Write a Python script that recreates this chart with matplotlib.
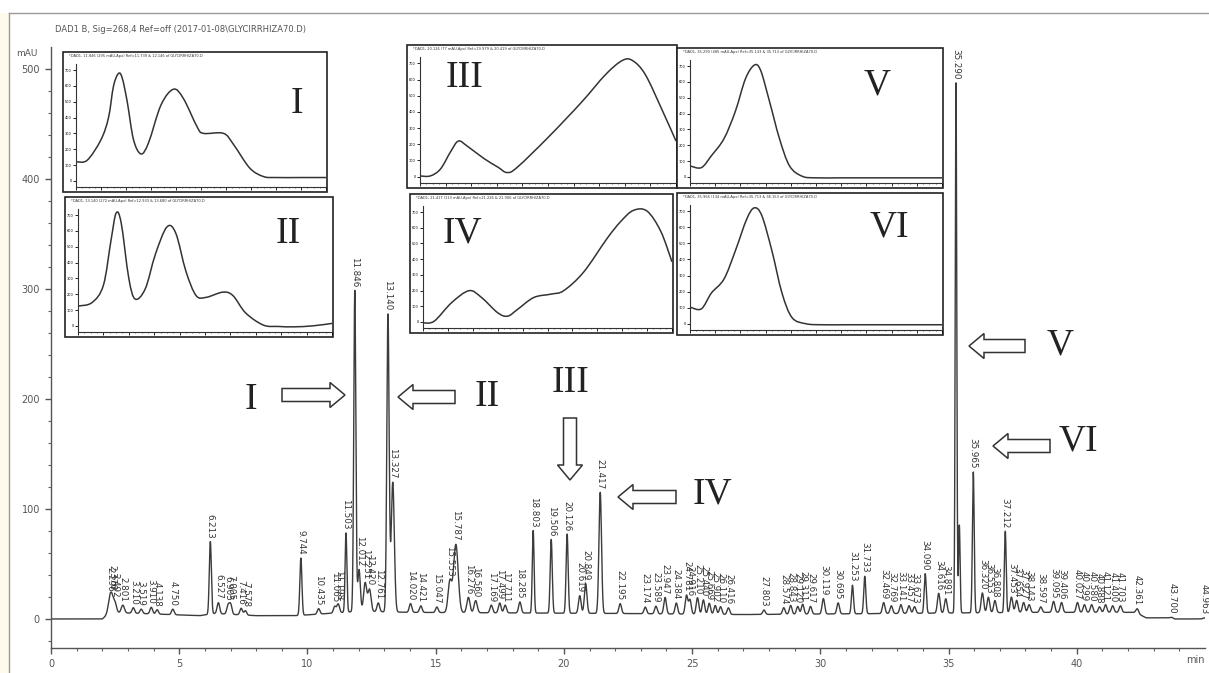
import numpy as np
import matplotlib
matplotlib.use("Agg")
import matplotlib.pyplot as plt
from matplotlib.patches import Rectangle, FancyArrow, PathPatch
from matplotlib.path import Path

# ---------------- data ----------------
peak_rt = [2.296, 2.376, 2.492, 2.801, 3.210, 3.519, 3.910, 4.138, 4.750,
           6.213, 6.527, 6.905, 7.005, 7.416, 7.578,
           9.744, 10.435, 11.065, 11.198, 11.503, 11.846, 12.012, 12.251, 12.420, 12.761,
           13.140, 13.327, 14.020, 14.421, 15.047, 15.553, 15.787, 16.276, 16.560,
           17.169, 17.499, 17.711, 18.285,
           18.803, 19.506, 20.126, 20.619, 20.849, 21.417, 22.195,
           23.174, 23.589, 23.947, 24.384, 24.781, 24.916, 25.210, 25.440, 25.669,
           25.902, 26.110, 26.416,
           27.803, 28.574, 28.843, 29.120, 29.311, 29.617, 30.119, 30.695, 31.253,
           31.733, 32.469, 32.769,
           33.141, 33.457, 33.673, 34.090, 34.616, 34.891, 35.290, 35.965, 36.320,
           36.553, 36.808, 37.212,
           37.453, 37.654, 37.927, 38.143, 38.597, 39.095, 39.406, 40.027, 40.299,
           40.580, 40.888, 41.121,
           41.400, 41.703, 42.361, 43.700, 44.963]
peak_height = [12, 10, 9, 7, 5, 4, 6, 4, 5,
               66, 10, 8, 9, 6, 4,
               52, 5, 6, 8, 72, 292, 38, 26, 20, 8,
               270, 118, 8, 6, 5, 28, 62, 14, 11,
               7, 9, 7, 10,
               75, 67, 72, 16, 27, 110, 9,
               6, 7, 15, 10, 17, 13, 15, 13, 10,
               8, 7, 6,
               4, 6, 8, 7, 9, 7, 14, 10, 26,
               34, 10, 7,
               8, 7, 6, 36, 18, 13, 482, 128, 18,
               14, 11, 74,
               14, 11, 9, 7, 5, 10, 9, 9, 7,
               7, 5, 7,
               6, 6, 4, 1, 1]
peak_width = [0.07, 0.06, 0.06, 0.06, 0.05, 0.05, 0.05, 0.05, 0.05,
              0.04, 0.05, 0.05, 0.05, 0.05, 0.05,
              0.04, 0.05, 0.05, 0.05, 0.035, 0.04, 0.05, 0.06, 0.06, 0.05,
              0.045, 0.06, 0.05, 0.05, 0.05, 0.07, 0.09, 0.06, 0.06,
              0.05, 0.05, 0.05, 0.05,
              0.035, 0.04, 0.04, 0.05, 0.05, 0.05, 0.05,
              0.05, 0.05, 0.05, 0.05, 0.05, 0.05, 0.05, 0.05, 0.05,
              0.05, 0.05, 0.05,
              0.05, 0.05, 0.05, 0.05, 0.05, 0.05, 0.05, 0.05, 0.04,
              0.04, 0.05, 0.05,
              0.05, 0.05, 0.05, 0.04, 0.05, 0.05, 0.03, 0.035, 0.05,
              0.05, 0.05, 0.035,
              0.05, 0.05, 0.05, 0.05, 0.05, 0.05, 0.05, 0.05, 0.05,
              0.05, 0.05, 0.05,
              0.05, 0.05, 0.05, 0.05, 0.05]
shoulder_rt = [35.42]
shoulder_height = [80]
shoulder_width = [0.03]

baseline_t = [0, 2.0, 2.3, 5.8, 6.4, 8.0, 9.5, 10.2, 12.0, 14.0, 22.0, 27.0, 33.0, 38.0, 42.3, 42.7, 43.6, 43.8, 45.0]
baseline_v = [0, 0, 6, 3, 5, 3, 3, 4, 7, 6, 5, 4, 5, 6, 6, 1, 1, 0, 0]

x_ticks = [0, 5, 10, 15, 20, 25, 30, 35, 40]
y_ticks = [0, 100, 200, 300, 400, 500]

# UV spectra of the insets (wavelength nm, relative absorbance)
spec_wl = {
    "I":   [200, 209, 220, 226, 230, 234, 237, 241, 246, 252, 258, 268, 278, 286, 297, 302, 318, 326, 339, 350, 360, 380, 400],
    "II":  [200, 211, 220, 226, 230, 234, 240, 245, 253, 261, 270, 277, 285, 293, 301, 314, 322, 332, 346, 358, 370, 385, 400],
    "III": [200, 208, 216, 224, 230, 237, 250, 261, 268, 276, 300, 326, 345, 358, 366, 376, 389, 400],
    "IV":  [200, 209, 223, 237, 247, 260, 268, 276, 289, 303, 313, 329, 348, 359, 369, 380, 391, 400],
    "V":   [200, 209, 217, 227, 236, 244, 251, 256, 263, 271, 279, 289, 300, 320, 350, 400],
    "VI":  [200, 209, 217, 227, 236, 245, 251, 257, 265, 273, 281, 292, 305, 325, 350, 400],
}
spec_abs = {
    "I":   [0.205, 0.218, 0.385, 0.564, 0.82, 0.923, 0.885, 0.692, 0.385, 0.269, 0.359, 0.667, 0.795, 0.718, 0.487, 0.436, 0.436, 0.346, 0.154, 0.085, 0.077, 0.077, 0.077],
    "II":  [0.211, 0.239, 0.380, 0.746, 0.966, 0.887, 0.437, 0.268, 0.352, 0.634, 0.854, 0.803, 0.493, 0.296, 0.282, 0.324, 0.296, 0.155, 0.056, 0.045, 0.042, 0.05, 0.07],
    "III": [0.056, 0.056, 0.111, 0.25, 0.333, 0.292, 0.194, 0.125, 0.083, 0.125, 0.361, 0.639, 0.861, 0.972, 0.972, 0.861, 0.583, 0.333],
    "IV":  [0.042, 0.056, 0.208, 0.306, 0.25, 0.125, 0.097, 0.153, 0.25, 0.278, 0.306, 0.458, 0.736, 0.875, 0.964, 0.958, 0.792, 0.542],
    "V":   [0.139, 0.125, 0.222, 0.361, 0.583, 0.847, 0.958, 0.917, 0.667, 0.361, 0.139, 0.055, 0.042, 0.042, 0.042, 0.042],
    "VI":  [0.183, 0.169, 0.296, 0.408, 0.634, 0.887, 0.977, 0.915, 0.634, 0.296, 0.099, 0.05, 0.042, 0.042, 0.042, 0.042],
}
spec_title = {
    "I": "*DAD1, 11.846 (295 mAU,Apx) Ref=11.739 & 12.146 of GLYCIRRHIZA70.D",
    "II": "*DAD1, 13.140 (272 mAU,Apx) Ref=12.933 & 13.680 of GLYCIRRHIZA70.D",
    "III": "*DAD1, 20.126 (77 mAU,Apx) Ref=19.979 & 20.419 of GLYCIRRHIZA70.D",
    "IV": "*DAD1, 21.417 (113 mAU,Apx) Ref=21.226 & 21.906 of GLYCIRRHIZA70.D",
    "V": "*DAD1, 35.290 (485 mAU,Apx) Ref=35.133 & 35.713 of GLYCIRRHIZA70.D",
    "VI": "*DAD1, 35.965 (134 mAU,Apx) Ref=35.713 & 36.153 of GLYCIRRHIZA70.D",
}

# ---------------- figure ----------------
W, H = 1209, 673
fig = plt.figure(figsize=(W / 100, H / 100), dpi=100)
fig.patch.set_facecolor("white")

def fbox(x0, y0, x1, y1):
    return [x0 / W, 1 - y1 / H, (x1 - x0) / W, (y1 - y0) / H]

def smooth_path(xs, ys):
    """Catmull-Rom style Bezier path through the given points (rendering only)."""
    xs = np.asarray(xs, float)
    ys = np.asarray(ys, float)
    verts = [(xs[0], ys[0])]
    codes = [Path.MOVETO]
    n = len(xs)
    for i in range(n - 1):
        p0 = np.array([xs[max(i - 1, 0)], ys[max(i - 1, 0)]])
        p1 = np.array([xs[i], ys[i]])
        p2 = np.array([xs[i + 1], ys[i + 1]])
        p3 = np.array([xs[min(i + 2, n - 1)], ys[min(i + 2, n - 1)]])
        c1 = p1 + (p2 - p0) / 6.0
        c2 = p2 - (p3 - p1) / 6.0
        verts += [tuple(c1), tuple(c2), tuple(p2)]
        codes += [Path.CURVE4] * 3
    return Path(verts, codes)

label_font = ["Liberation Sans Narrow", "DejaVu Sans"]

ax = fig.add_axes(fbox(51, 47, 1205, 648))
t = np.linspace(0, 45, 12000)
sig = np.interp(t, baseline_t, baseline_v)
for rt, h, w in zip(peak_rt + shoulder_rt, peak_height + shoulder_height, peak_width + shoulder_width):
    sig = sig + h * np.exp(-0.5 * ((t - rt) / w) ** 2)
ax.plot(t, sig, color="#3c3c3c", lw=1.0)

ax.set_xlim(0, 45)
ax.set_ylim(-26.4, 520)
for s in ["top", "right"]:
    ax.spines[s].set_visible(False)
for s in ["left", "bottom"]:
    ax.spines[s].set_color("#555555")
    ax.spines[s].set_linewidth(1.0)
ax.set_xticks(x_ticks)
ax.set_xticks(np.arange(0, 45, 1), minor=True)
ax.set_yticks(y_ticks)
ax.set_yticks(np.arange(-20, 520, 20), minor=True)
ax.tick_params(axis="both", which="major", length=4, width=1, color="#555555",
               labelsize=7, labelcolor="#555555", pad=4)
ax.tick_params(axis="both", which="minor", length=2, width=0.8, color="#666666")
ax.text(1.0, -0.012, "min", transform=ax.transAxes, ha="right", va="top",
        fontsize=7, color="#555555")
ax.text(-0.012, 0.99, "mAU", transform=ax.transAxes, ha="right", va="center",
        fontsize=6.5, color="#555555")

for rt in peak_rt:
    apex = np.interp(rt, t, sig)
    ax.text(rt, apex + 3, f"{rt:.3f}", rotation=270, ha="center", va="bottom",
            fontsize=6.3, color="#333333", family=label_font, clip_on=False)

# ---------------- overlay in pixel coordinates ----------------
ov = fig.add_axes([0, 0, 1, 1], zorder=1)
ov.set_xlim(0, W)
ov.set_ylim(H, 0)
ov.axis("off")
ov.patch.set_alpha(0)
ov.add_patch(Rectangle((0, 13), 9, H - 13, facecolor="#fffbea", edgecolor="none"))
ov.plot([9, W], [13, 13], color="#9a9a9a", lw=1)
ov.plot([9, 9], [13, H], color="#9a9a9a", lw=1)
ov.text(55, 30, "DAD1 B, Sig=268,4 Ref=off (2017-01-08\\GLYCIRRHIZA70.D)",
        fontsize=6, color="#555555", va="center", ha="left")

serif = ["Liberation Serif", "DejaVu Serif"]
arrows = [(282, 395, 63, 0), (455, 397, -57, 0), (570, 418, 0, 62),
          (676, 497, -58, 0), (1025, 346, -56, 0), (1050, 446, -57, 0)]
for x0, y0, dx, dy in arrows:
    ov.add_patch(FancyArrow(x0, y0, dx, dy, width=13, head_width=25, head_length=15,
                            length_includes_head=True, fc="white", ec="#333333", lw=1.1))
big_labels = [("I", 251, 400), ("II", 487, 397), ("III", 571, 383),
              ("IV", 712, 494), ("V", 1060, 345), ("VI", 1078, 441)]
for s, x, y in big_labels:
    ov.text(x, y, s, family=serif, fontsize=27, ha="center", va="center", color="#222222")

# ---------------- insets ----------------
boxes = {"I": (63, 52, 327, 192), "II": (65, 197, 333, 337),
         "III": (407, 45, 677, 188), "IV": (410, 194, 673, 333),
         "V": (677, 48, 943, 188), "VI": (677, 193, 943, 335)}
inset_label_pos = {"I": (297, 104), "II": (288, 234), "III": (465, 78),
                   "IV": (462, 233), "V": (877, 85), "VI": (889, 227)}
for key, (x0, y0, x1, y1) in boxes.items():
    ov.add_patch(Rectangle((x0, y0), x1 - x0, y1 - y0, facecolor="white",
                           edgecolor="#222222", lw=1.2, zorder=1))
    ov.text(x0 + 6, y0 + 4, spec_title[key], fontsize=2.6, color="#333333",
            ha="left", va="center", zorder=3)
    ia = fig.add_axes(fbox(x0 + 13, y0 + 12, x1 - 1, y1 - 5), zorder=2)
    ia.patch.set_alpha(0)
    ia.add_patch(PathPatch(smooth_path(spec_wl[key], spec_abs[key]), fill=False,
                           edgecolor="#333333", lw=1.1))
    ia.set_xlim(200, 400)
    ia.set_ylim(0, 1)
    for s in ["top", "right"]:
        ia.spines[s].set_visible(False)
    for s in ["left", "bottom"]:
        ia.spines[s].set_linewidth(0.8)
        ia.spines[s].set_color("#333333")
    ia.set_xticks(np.arange(200, 401, 20))
    ia.set_xticks(np.arange(200, 401, 5), minor=True)
    ia.set_yticks(np.linspace(0.05, 0.95, 8))
    ia.set_yticklabels([str(v) for v in range(0, 800, 100)])
    ia.set_xticklabels([])
    ia.tick_params(axis="both", which="major", length=2, width=0.6, labelsize=2.5, pad=1)
    ia.tick_params(axis="both", which="minor", length=1, width=0.4)
    lx, ly = inset_label_pos[key]
    ov.text(lx, ly, key, family=serif, fontsize=27, ha="center", va="center",
            color="#222222", zorder=3)

fig.savefig("out.png", dpi=100)
